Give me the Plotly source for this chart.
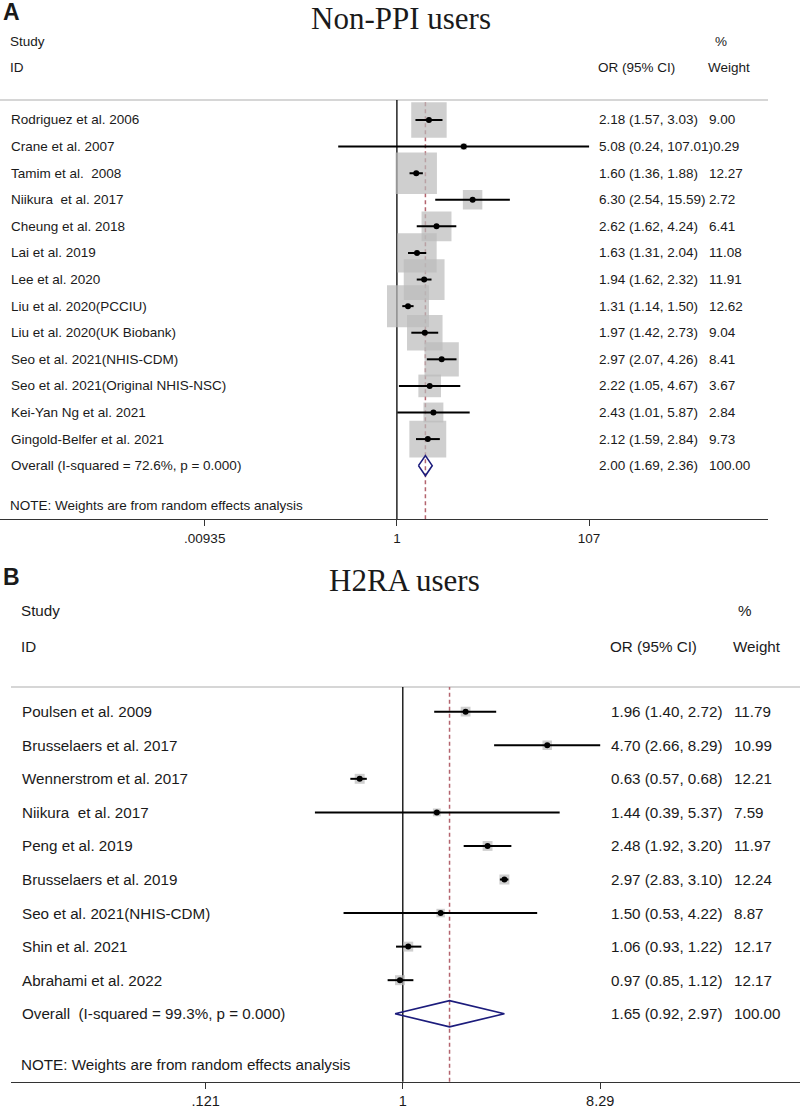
import math
import plotly.graph_objects as go

W, H = 800, 1108

# ---------------- Panel A : Non-PPI users ----------------
a_study = ["Rodriguez et al. 2006", "Crane et al. 2007", "Tamim et al.\u00a0 2008",
           "Niikura\u00a0 et al. 2017", "Cheung et al. 2018", "Lai et al. 2019",
           "Lee et al. 2020", "Liu et al. 2020(PCCIU)", "Liu et al. 2020(UK Biobank)",
           "Seo et al. 2021(NHIS-CDM)", "Seo et al. 2021(Original NHIS-NSC)",
           "Kei-Yan Ng et al. 2021", "Gingold-Belfer et al. 2021"]
a_or = [2.18, 5.08, 1.60, 6.30, 2.62, 1.63, 1.94, 1.31, 1.97, 2.97, 2.22, 2.43, 2.12]
a_lo = [1.57, 0.24, 1.36, 2.54, 1.62, 1.31, 1.62, 1.14, 1.42, 2.07, 1.05, 1.01, 1.59]
a_hi = [3.03, 107.01, 1.88, 15.59, 4.24, 2.04, 2.32, 1.50, 2.73, 4.26, 4.67, 5.87, 2.84]
a_wt = [9.00, 0.29, 12.27, 2.72, 6.41, 11.08, 11.91, 12.62, 9.04, 8.41, 3.67, 2.84, 9.73]
a_overall_label = "Overall (I-squared = 72.6%, p = 0.000)"
a_overall = [2.00, 1.69, 2.36]
a_overall_wt = 100.00
a_tickvals = [0.00935, 1, 107]
a_ticktext = [".00935", "1", "107"]

# ---------------- Panel B : H2RA users ----------------
b_study = ["Poulsen et al. 2009", "Brusselaers et al. 2017", "Wennerstrom et al. 2017",
           "Niikura\u00a0 et al. 2017", "Peng et al. 2019", "Brusselaers et al. 2019",
           "Seo et al. 2021(NHIS-CDM)", "Shin et al. 2021", "Abrahami et al. 2022"]
b_or = [1.96, 4.70, 0.63, 1.44, 2.48, 2.97, 1.50, 1.06, 0.97]
b_lo = [1.40, 2.66, 0.57, 0.39, 1.92, 2.83, 0.53, 0.93, 0.85]
b_hi = [2.72, 8.29, 0.68, 5.37, 3.20, 3.10, 4.22, 1.22, 1.12]
b_wt = [11.79, 10.99, 12.21, 7.59, 11.97, 12.24, 8.87, 12.17, 12.17]
b_overall_label = "Overall\u00a0 (I-squared = 99.3%, p = 0.000)"
b_overall = [1.65, 0.92, 2.97]
b_overall_wt = 100.00
b_tickvals = [0.121, 1, 8.29]
b_ticktext = [".121", "1", "8.29"]

SANS = "Arial, 'Liberation Sans', sans-serif"
SERIF = "'Times New Roman', 'Liberation Serif', serif"
TXT = "#1a1a1a"
BOX = "#bbbbbb"
NAVY = "#1c1c7c"
DASH = "#b4646e"


def px(p):
    return p / W


def py(p):
    return 1 - p / H


fig = go.Figure()
annotations = []
shapes = []


def add_panel(xa, ya, study, orv, lo, hi, wt, ov, ov_wt, ov_label,
              box_scale, fs, x_label, x_or, x_wt, diamond_h):
    n = len(study)
    rows = list(range(n))
    # weight boxes
    fig.add_trace(go.Scatter(
        x=orv, y=rows, mode="markers", xaxis=xa, yaxis=ya, hoverinfo="skip",
        marker=dict(symbol="square", color=BOX, line=dict(width=0),
                    size=[box_scale * math.sqrt(w) for w in wt])))
    # CI lines
    xs, ys = [], []
    for i in range(n):
        xs += [lo[i], hi[i], None]
        ys += [i, i, None]
    fig.add_trace(go.Scatter(x=xs, y=ys, mode="lines", xaxis=xa, yaxis=ya,
                             hoverinfo="skip", line=dict(color="black", width=2)))
    # point estimates
    fig.add_trace(go.Scatter(x=orv, y=rows, mode="markers", xaxis=xa, yaxis=ya,
                             hoverinfo="skip",
                             marker=dict(symbol="circle", size=6, color="black",
                                         line=dict(width=0))))
    # overall diamond
    o, l, h = ov
    fig.add_trace(go.Scatter(x=[l, o, h, o, l], y=[n, n - diamond_h, n, n + diamond_h, n],
                             mode="lines", xaxis=xa, yaxis=ya, hoverinfo="skip",
                             line=dict(color=NAVY, width=1.6)))
    yref = ya
    # row texts
    for i in range(n):
        annotations.append(dict(x=px(x_label), y=i, xref="paper", yref=yref, text=study[i],
                                showarrow=False, xanchor="left", yanchor="middle",
                                font=dict(family=SANS, size=fs, color=TXT)))
        ortxt = f"{orv[i]:.2f} ({lo[i]:.2f}, {hi[i]:.2f})"
        if hi[i] >= 100:
            annotations.append(dict(x=px(x_or), y=i, xref="paper", yref=yref,
                                    text=ortxt + f"{wt[i]:.2f}",
                                    showarrow=False, xanchor="left", yanchor="middle",
                                    font=dict(family=SANS, size=fs, color=TXT)))
        else:
            annotations.append(dict(x=px(x_or), y=i, xref="paper", yref=yref, text=ortxt,
                                    showarrow=False, xanchor="left", yanchor="middle",
                                    font=dict(family=SANS, size=fs, color=TXT)))
            annotations.append(dict(x=px(x_wt), y=i, xref="paper", yref=yref,
                                    text=f"{wt[i]:.2f}",
                                    showarrow=False, xanchor="left", yanchor="middle",
                                    font=dict(family=SANS, size=fs, color=TXT)))
    annotations.append(dict(x=px(x_label), y=n, xref="paper", yref=yref, text=ov_label,
                            showarrow=False, xanchor="left", yanchor="middle",
                            font=dict(family=SANS, size=fs, color=TXT)))
    annotations.append(dict(x=px(x_or), y=n, xref="paper", yref=yref,
                            text=f"{o:.2f} ({l:.2f}, {h:.2f})",
                            showarrow=False, xanchor="left", yanchor="middle",
                            font=dict(family=SANS, size=fs, color=TXT)))
    annotations.append(dict(x=px(x_wt), y=n, xref="paper", yref=yref, text=f"{ov_wt:.2f}",
                            showarrow=False, xanchor="left", yanchor="middle",
                            font=dict(family=SANS, size=fs, color=TXT)))
    # lines: top separator, null line, overall dashed line
    xd = xa + " domain"
    yd = ya + " domain"
    shapes.append(dict(type="line", xref=xd, yref=yd, x0=0, x1=1, y0=1, y1=1,
                       line=dict(color="#c8c8c8", width=1.5), layer="below"))
    shapes.append(dict(type="line", xref=xa, yref=yd, x0=1, x1=1, y0=0, y1=1,
                       line=dict(color="black", width=1.3), layer="below"))
    shapes.append(dict(type="line", xref=xa, yref=yd, x0=o, x1=o, y0=0, y1=1,
                       line=dict(color=DASH, width=1.5, dash="4px,3px"), layer="below"))


add_panel("x", "y", a_study, a_or, a_lo, a_hi, a_wt, a_overall, a_overall_wt,
          a_overall_label, 11.82, 13.5, 8.5, 597, 707, 0.38)
add_panel("x2", "y2", b_study, b_or, b_lo, b_hi, b_wt, b_overall, b_overall_wt,
          b_overall_label, 2.85, 15.2, 19.5, 609, 732, 0.39)


def header(x, y, text, fs, anchor="left", family=SANS, bold=False, yanchor="middle"):
    t = f"<b>{text}</b>" if bold else text
    annotations.append(dict(x=px(x), y=py(y), xref="paper", yref="paper", text=t,
                            showarrow=False, xanchor=anchor, yanchor=yanchor,
                            borderpad=0,
                            font=dict(family=family, size=fs, color=TXT)))


# Panel A headers
header(2, 12, "A", 23, bold=True)
header(401, 0, "Non-PPI users", 31, anchor="center", family=SERIF, yanchor="top")
header(8.5, 42, "Study", 13.5)
header(8.5, 68, "ID", 13.5)
header(597, 68, "OR (95% CI)", 13.5)
header(714, 42, "%", 13.5)
header(707, 68, "Weight", 13.5)
header(8.5, 505, "NOTE: Weights are from random effects analysis", 13.5)

# Panel B headers
header(2, 577, "B", 23, bold=True)
header(404, 580, "H2RA users", 31, anchor="center", family=SERIF)
header(19.5, 610, "Study", 15.2)
header(19.5, 646, "ID", 15.2)
header(609, 646, "OR (95% CI)", 15.2)
header(737, 610, "%", 15.2)
header(732, 646, "Weight", 15.2)
header(19.5, 1064, "NOTE: Weights are from random effects analysis", 15.2)

# Axis geometry (pixel mapping)
a_ppd, a_c = 94.7, 396.9       # px per decade, px of OR=1
b_ppd, b_c = 214.9, 402.8
a_x0, a_x1 = 0, 768
b_x0, b_x1 = 11, 800
a_row0, a_rowsp, a_top, a_bot = 120, 26.59, 100, 519.3
b_row0, b_rowsp, b_top, b_bot = 711.7, 33.56, 687, 1081.7

axis_common = dict(type="log", showgrid=False, zeroline=False, showline=True,
                   linecolor="#333333", linewidth=1.3, ticks="outside", ticklen=6,
                   tickwidth=1.3, tickcolor="#333333", tickmode="array")

fig.update_layout(
    width=W, height=H, margin=dict(l=0, r=0, t=0, b=0),
    paper_bgcolor="white", plot_bgcolor="white", showlegend=False,
    xaxis=dict(**axis_common, anchor="y",
               domain=[px(a_x0), px(a_x1)],
               range=[(a_x0 - a_c) / a_ppd, (a_x1 - a_c) / a_ppd],
               tickvals=a_tickvals, ticktext=a_ticktext,
               tickfont=dict(family=SANS, size=13.5, color=TXT)),
    yaxis=dict(domain=[py(a_bot), py(a_top)],
               range=[(a_bot - a_row0) / a_rowsp, (a_top - a_row0) / a_rowsp],
               showgrid=False, zeroline=False, showline=False, showticklabels=False),
    xaxis2=dict(**axis_common, anchor="y2",
                domain=[px(b_x0), px(b_x1)],
                range=[(b_x0 - b_c) / b_ppd, (b_x1 - b_c) / b_ppd],
                tickvals=b_tickvals, ticktext=b_ticktext,
                tickfont=dict(family=SANS, size=14.5, color=TXT)),
    yaxis2=dict(domain=[py(b_bot), py(b_top)],
                range=[(b_bot - b_row0) / b_rowsp, (b_top - b_row0) / b_rowsp],
                showgrid=False, zeroline=False, showline=False, showticklabels=False),
    annotations=annotations,
    shapes=shapes,
)

fig.write_html("out.html",
               config={"displayModeBar": False},
               post_script="document.body.style.margin='0';document.body.style.overflow='hidden';")
